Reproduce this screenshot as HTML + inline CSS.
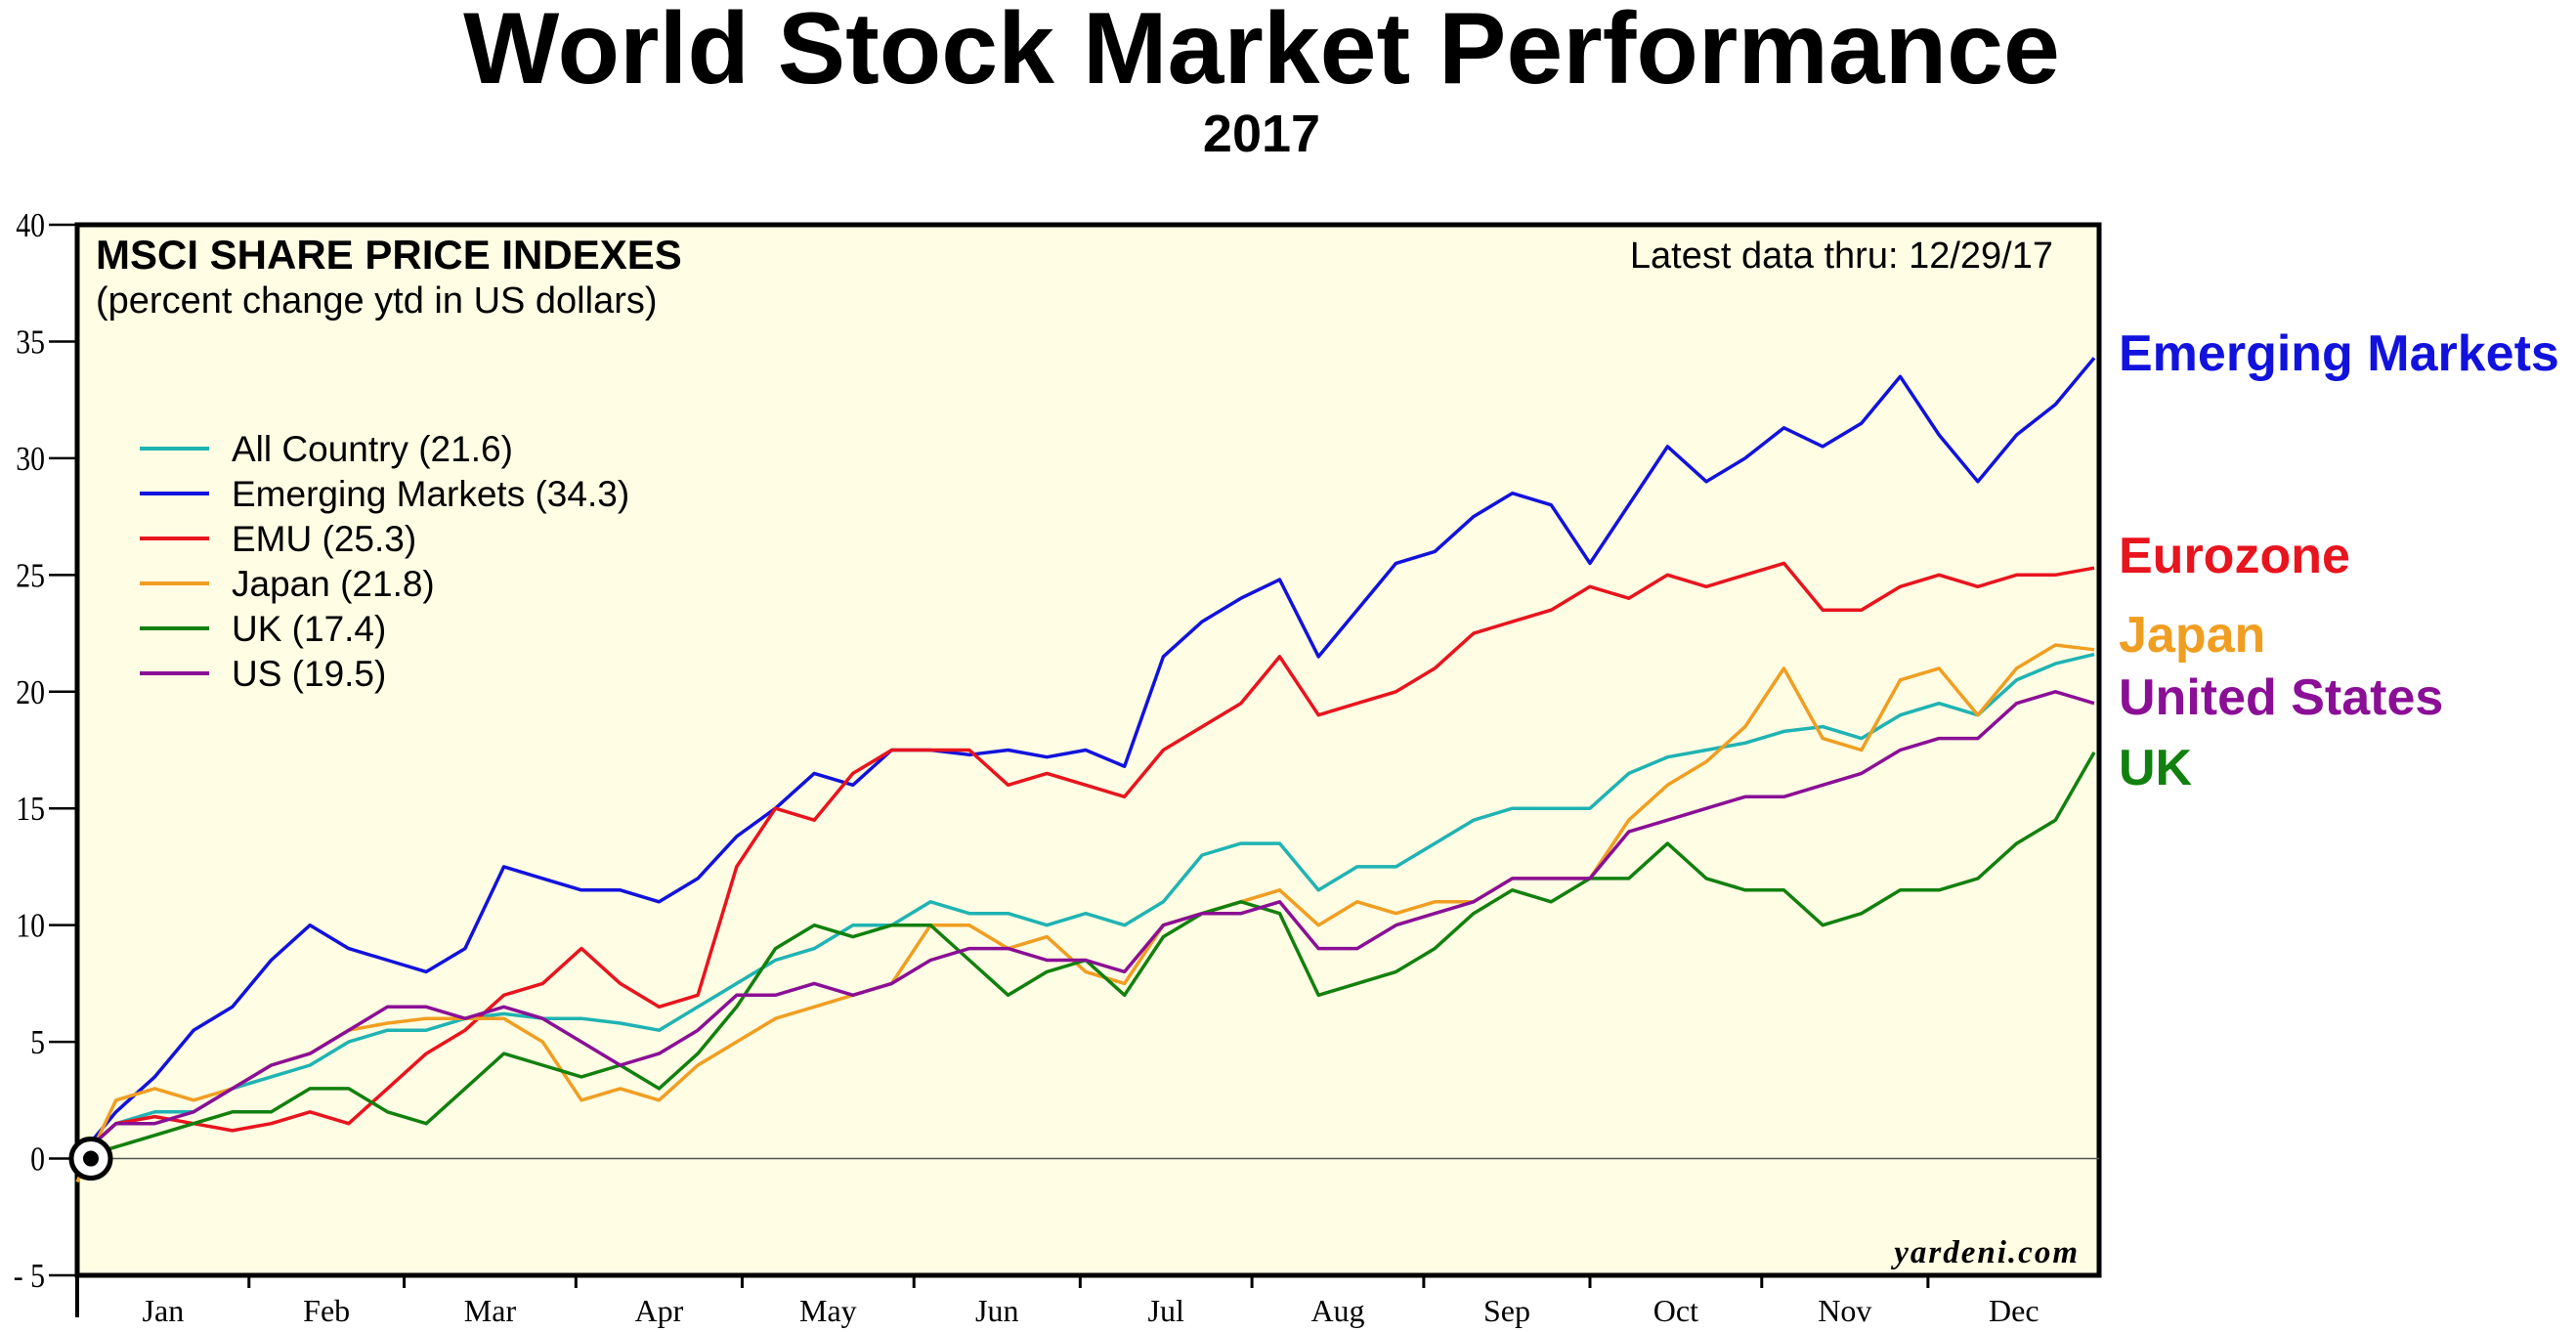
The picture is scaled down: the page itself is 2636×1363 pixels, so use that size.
<!DOCTYPE html>
<html><head><meta charset="utf-8"><style>
html,body{margin:0;padding:0;background:#fff;}
svg{display:block;}
</style></head><body>
<svg id="chart" width="2636" height="1363" viewBox="0 0 2636 1363" xmlns="http://www.w3.org/2000/svg">
<text x="1291" y="85" text-anchor="middle" font-family="Liberation Sans, sans-serif" font-weight="bold" font-size="104">World Stock Market Performance</text>
<text x="1291" y="155" text-anchor="middle" font-family="Liberation Sans, sans-serif" font-weight="bold" font-size="54">2017</text>
<rect x="79" y="230" width="2069" height="1075" fill="#fffde3" stroke="#000" stroke-width="5"/>
<g id="yaxis"></g>
<g id="xaxis"></g>
<line id="zero" stroke="#555" stroke-width="1.5"/>
<g id="series"></g>
<text x="98" y="275" font-family="Liberation Sans, sans-serif" font-weight="bold" font-size="42">MSCI SHARE PRICE INDEXES</text>
<text x="98" y="320" font-family="Liberation Sans, sans-serif" font-size="38">(percent change ytd in US dollars)</text>
<text x="2101" y="274" text-anchor="end" font-family="Liberation Sans, sans-serif" font-size="38">Latest data thru: 12/29/17</text>
<text x="2128" y="1292" text-anchor="end" font-family="Liberation Serif, serif" font-style="italic" font-weight="bold" font-size="33" letter-spacing="2">yardeni.com</text>
<g id="legend"></g>
<g id="rlabels"></g>
</svg>
<script>
const NS='http://www.w3.org/2000/svg';
const svg=document.getElementById('chart');
const days=[];for(let i=0;i<53;i++)days.push(i*7);
const allCountry=[0,1.5,2,2,3,3.5,4,5,5.5,5.5,6,6.2,6,6,5.8,5.5,6.5,7.5,8.5,9,10,10,11,10.5,10.5,10,10.5,10,11,13,13.5,13.5,11.5,12.5,12.5,13.5,14.5,15,15,15,16.5,17.2,17.5,17.8,18.3,18.5,18,19,19.5,19,20.5,21.2,21.6];
const emerging=[0,2,3.5,5.5,6.5,8.5,10,9,8.5,8,9,12.5,12,11.5,11.5,11,12,13.8,15,16.5,16,17.5,17.5,17.3,17.5,17.2,17.5,16.8,21.5,23,24,24.8,21.5,23.5,25.5,26,27.5,28.5,28,25.5,28,30.5,29,30,31.3,30.5,31.5,33.5,31,29,31,32.3,34.3];
const emu=[0,1.5,1.8,1.5,1.2,1.5,2,1.5,3,4.5,5.5,7,7.5,9,7.5,6.5,7,12.5,15,14.5,16.5,17.5,17.5,17.5,16,16.5,16,15.5,17.5,18.5,19.5,21.5,19,19.5,20,21,22.5,23,23.5,24.5,24,25,24.5,25,25.5,23.5,23.5,24.5,25,24.5,25,25,25.3];
const japan=[-1,2.5,3,2.5,3,4,4.5,5.5,5.8,6,6,6,5,2.5,3,2.5,4,5,6,6.5,7,7.5,10,10,9,9.5,8,7.5,10,10.5,11,11.5,10,11,10.5,11,11,12,12,12,14.5,16,17,18.5,21,18,17.5,20.5,21,19,21,22,21.8];
const uk=[0,0.5,1,1.5,2,2,3,3,2,1.5,3,4.5,4,3.5,4,3,4.5,6.5,9,10,9.5,10,10,8.5,7,8,8.5,7,9.5,10.5,11,10.5,7,7.5,8,9,10.5,11.5,11,12,12,13.5,12,11.5,11.5,10,10.5,11.5,11.5,12,13.5,14.5,17.4];
const us=[0,1.5,1.5,2,3,4,4.5,5.5,6.5,6.5,6,6.5,6,5,4,4.5,5.5,7,7,7.5,7,7.5,8.5,9,9,8.5,8.5,8,10,10.5,10.5,11,9,9,10,10.5,11,12,12,12,14,14.5,15,15.5,15.5,16,16.5,17.5,18,18,19.5,20,19.5];
const yTicks=[40,35,30,25,20,15,10,5,0,-5];
const months=['Jan','Feb','Mar','Apr','May','Jun','Jul','Aug','Sep','Oct','Nov','Dec'];
const monthStarts=[0,31,59,90,120,151,181,212,243,273,304,334,365];
const legendNames=['All Country (21.6)','Emerging Markets (34.3)','EMU (25.3)','Japan (21.8)','UK (17.4)','US (19.5)'];
const seriesList=[allCountry,emerging,emu,japan,uk,us];
const colors=['#1fb3b3','#1212dd','#e8141e','#f09e22','#12800f','#8a0f96'];
const seriesNames=['all-country','emerging-markets','emu','japan','uk','us'];
const X0=79,X1=2143,Y0=230,Y1=1305;
const xs=d=>X0+(d/364)*(X1-X0);
const ys=v=>Y0+(40-v)/45*(Y1-Y0);
function mk(t,a,p){const e=document.createElementNS(NS,t);for(const k in a)e.setAttribute(k,a[k]);(p||svg).appendChild(e);return e;}
const ya=document.getElementById('yaxis');
yTicks.forEach(v=>{
  const l=mk('line',{x1:50,x2:79,y1:ys(v),y2:ys(v),stroke:'#000','stroke-width':2.5},ya);
  
  
  const t=mk('text',{x:46,y:ys(v)+12,'text-anchor':'end','font-family':'Liberation Serif, serif','font-size':35,transform:'translate(46 0) scale(0.85 1) translate(-46 0)'},ya);
  
  
  t.textContent=(v<0?'- '+(-v):v);
});
const xa=document.getElementById('xaxis');
const ax=mk('line',{x1:79,x2:79,y1:1305,y2:1348,stroke:'#000','stroke-width':4},xa);


monthStarts.slice(1,12).forEach(d=>{
  const l=mk('line',{x1:xs(d),x2:xs(d),y1:1305,y2:1318,stroke:'#000','stroke-width':3},xa);
  
  
});
months.forEach((m,i)=>{
  const t=mk('text',{x:xs((monthStarts[i]+monthStarts[i+1])/2),y:1352,'text-anchor':'middle','font-family':'Liberation Serif, serif','font-size':32},xa);
  
  
  t.textContent=m;
});
const z=document.getElementById('zero');
z.setAttribute('x1',X0);z.setAttribute('x2',2148);z.setAttribute('y1',ys(0));z.setAttribute('y2',ys(0));
const sg=document.getElementById('series');
seriesList.forEach((s,k)=>{
  const pts=s.map((v,i)=>xs(days[i]).toFixed(1)+','+ys(v).toFixed(1)).join(' ');
  const p=mk('polyline',{points:pts,fill:'none',stroke:colors[k],'stroke-width':3.5,'stroke-linejoin':'round'},sg);
  
  
});
const c1=mk('circle',{cx:xs(0)+14,cy:ys(0),r:20,fill:'#fff',stroke:'#000','stroke-width':5},sg);


const c2=mk('circle',{cx:xs(0)+14,cy:ys(0),r:8,fill:'#000'},sg);


const lg=document.getElementById('legend');
legendNames.forEach((n,i)=>{
  const y=459+i*46;
  const l=mk('line',{x1:143,x2:214,y1:y,y2:y,stroke:colors[i],'stroke-width':4},lg);
  
  
  const t=mk('text',{x:237,y:y+13,'font-family':'Liberation Sans, sans-serif','font-size':37},lg);
  
  
  t.textContent=n;
});
const rl=document.getElementById('rlabels');
[['Emerging Markets',361,'#1212dd'],['Eurozone',568,'#e8141e'],['Japan',649,'#f09e22'],['United States',713,'#8a0f96'],['UK',785,'#12800f']].forEach(r=>{
  const t=mk('text',{x:2168,y:r[1]+18,fill:r[2],'font-family':'Liberation Sans, sans-serif','font-weight':'bold','font-size':52},rl);
  
  
  t.textContent=r[0];
});
</script>
</body></html>
